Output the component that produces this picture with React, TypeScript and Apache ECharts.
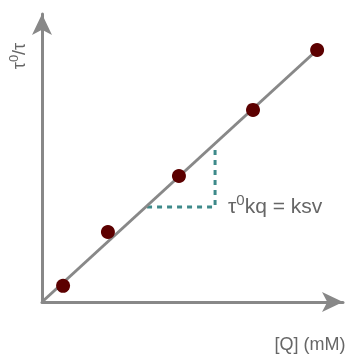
import React, { useEffect, useRef } from "react";
import * as echarts from "echarts";

const quencherConc = [0.7, 2.19, 4.55, 7.01, 9.14];
const tauRatio = [0.56, 2.43, 4.375, 6.67, 8.75];
const fitLineX = [0, 9.14];
const fitLineY = [0, 8.75];
const slopeGuideX = [3.49, 5.75, 5.75];
const slopeGuideY = [3.3, 3.3, 5.42];

export default function App() {
  const ref = useRef<HTMLDivElement>(null);
  useEffect(() => {
    const chart = echarts.init(ref.current!, null, { renderer: "svg" });
    const font = "'Liberation Sans', Arial, sans-serif";
    const axisLine = {
      show: true,
      symbol: ["none", "arrow"],
      symbolSize: [15, 21],
      lineStyle: { color: "#888888", width: 3 },
    };
    chart.setOption({
      animation: false,
      grid: { left: 42, top: 14, width: 301, height: 288 },
      xAxis: {
        type: "value",
        min: 0,
        max: 10,
        axisLine,
        axisTick: { show: false },
        axisLabel: { show: false },
        splitLine: { show: false },
      },
      yAxis: {
        type: "value",
        min: 0,
        max: 10,
        axisLine,
        axisTick: { show: false },
        axisLabel: { show: false },
        splitLine: { show: false },
      },
      series: [
        {
          type: "line",
          data: fitLineX.map((x, i) => [x, fitLineY[i]]),
          showSymbol: false,
          lineStyle: { color: "#888888", width: 3 },
          z: 2,
        },
        {
          type: "line",
          data: slopeGuideX.map((x, i) => [x, slopeGuideY[i]]),
          showSymbol: false,
          lineStyle: { color: "#3d8a8a", width: 3, type: [5, 5] },
          z: 1,
        },
        {
          type: "scatter",
          data: quencherConc.map((x, i) => [x, tauRatio[i]]),
          symbolSize: 14,
          itemStyle: { color: "#5c0000", opacity: 1 },
          z: 3,
        },
      ],
      graphic: [
        {
          type: "text",
          x: 228,
          y: 204,
          style: {
            text: "{a|τ}{s|0}{a|kq = ksv}",
            verticalAlign: "middle",
            align: "left",
            rich: {
              a: { fontSize: 21, fontFamily: font, fill: "#666666", lineHeight: 24, verticalAlign: "bottom" },
              s: { fontSize: 15, fontFamily: font, fill: "#666666", lineHeight: 24, verticalAlign: "top" },
            },
          },
        },
        {
          type: "text",
          x: 17,
          y: 56,
          rotation: Math.PI / 2,
          style: {
            text: "{a|τ}{s|0}{a|/τ}",
            align: "center",
            verticalAlign: "middle",
            rich: {
              a: { fontSize: 18, fontFamily: font, fill: "#666666", lineHeight: 21, verticalAlign: "bottom" },
              s: { fontSize: 13, fontFamily: font, fill: "#666666", lineHeight: 21, verticalAlign: "top" },
            },
          },
        },
        {
          type: "text",
          x: 310,
          y: 344,
          style: {
            text: "[Q] (mM)",
            align: "center",
            verticalAlign: "middle",
            fontSize: 18,
            fontFamily: font,
            fill: "#666666",
          },
        },
      ],
    });
    return () => chart.dispose();
  }, []);
  return <div ref={ref} style={{ position: "fixed", left: 0, top: 0, width: 350, height: 354 }} />;
}
